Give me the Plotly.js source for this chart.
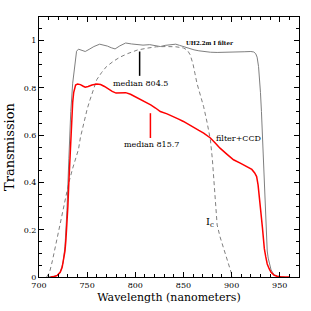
<!DOCTYPE html>
<html>
<head>
<meta charset="utf-8">
<script src="https://cdn.plot.ly/plotly-3.0.1.min.js"></script>
<style>html,body{margin:0;padding:0;background:#fff;}#chart{width:311px;height:311px;}</style>
</head>
<body>
<div id="chart"></div>
<script>
// UH2.2m I filter curve
const filterWl = [710,718,722,725,727,729,731,733,735,736.5,738,739,741,744,748,752,757,763,767,771,775,779,784,790,796,802,808,815,821,826,831,837,842,846,850,854,857,861,866,872,878,885,893,900,906,913,920,923,925,926.5,928,929,930,931,932,933,934,935,936,937,938,939,941,944,948,955];
const filterT  = [0,0.005,0.02,0.06,0.13,0.28,0.5,0.7,0.82,0.87,0.935,0.955,0.964,0.96,0.954,0.963,0.975,0.985,0.982,0.977,0.97,0.965,0.978,0.99,0.986,0.982,0.981,0.983,0.978,0.975,0.98,0.982,0.985,0.98,0.975,0.969,0.964,0.961,0.957,0.953,0.951,0.95,0.95,0.951,0.951,0.953,0.954,0.952,0.945,0.93,0.89,0.84,0.78,0.7,0.6,0.48,0.37,0.25,0.16,0.11,0.08,0.059,0.03,0.01,0.003,0];

// Cousins Ic band (dashed)
const icWl = [708,711,714,717,721,725,728,731,735,738,741,743,747,750,753,757,760,765,770,777,784,792,802,812,822,832,842,850,854,857,860,862,864,867.5,871,874.5,878,880,882,885,888,892,896,899,901];
const icT  = [0,0.02,0.07,0.13,0.2,0.28,0.35,0.4,0.46,0.5,0.54,0.59,0.665,0.71,0.75,0.8,0.835,0.865,0.89,0.912,0.93,0.945,0.96,0.968,0.974,0.975,0.974,0.969,0.96,0.94,0.9,0.86,0.82,0.77,0.72,0.655,0.58,0.5,0.4,0.22,0.17,0.115,0.06,0.018,0];

// filter x CCD
const ccdWl = [712,716,719,722,724,726,727,728,729,730,731,732,733,734,735,736,737,738,740,743,746,748,751,755,760,764,768,772,776,780,785,790,795,800,805,810,816,821,826,833,840,845,850,855,861,866,871,875,878,883,888,895,902,909,916,921,924,926,927.5,929,930.5,932,933,934,935.5,937,939,941,944,947,952,960];
const ccdT  = [0,0.002,0.007,0.02,0.04,0.08,0.11,0.16,0.22,0.3,0.4,0.5,0.6,0.68,0.74,0.78,0.8,0.812,0.816,0.814,0.807,0.803,0.806,0.812,0.816,0.814,0.806,0.795,0.785,0.778,0.779,0.78,0.773,0.763,0.75,0.742,0.728,0.715,0.7,0.69,0.679,0.668,0.658,0.645,0.63,0.62,0.609,0.598,0.588,0.567,0.545,0.52,0.496,0.482,0.468,0.455,0.44,0.425,0.39,0.34,0.27,0.21,0.16,0.12,0.085,0.055,0.035,0.02,0.008,0.003,0,0];

const medianFilter = 804.5;
const medianCCD = 815.7;

const xTicks = [700,750,800,850,900,950];
const yTicks = [0,0.2,0.4,0.6,0.8,1];

const font = "DejaVu Serif";

const traces = [
  {x: filterWl, y: filterT, mode:'lines', line:{color:'#7f7f7f', width:1}, hoverinfo:'skip'},
  {x: icWl, y: icT, mode:'lines', line:{color:'#7f7f7f', width:1, dash:'4px,3px'}, hoverinfo:'skip'},
  {x: ccdWl, y: ccdT, mode:'lines', line:{color:'#ff0000', width:1.5}, hoverinfo:'skip'},
  {x: [medianFilter, medianFilter], y: [0.954, 0.851], mode:'lines', line:{color:'#000', width:1.5}, hoverinfo:'skip'},
  {x: [medianCCD, medianCCD], y: [0.693, 0.588], mode:'lines', line:{color:'#ff0000', width:1.5}, hoverinfo:'skip'}
];

const axisCommon = {
  showgrid:false, zeroline:false, showline:true, linecolor:'#000', linewidth:1,
  mirror:'allticks', ticks:'inside', ticklen:5, tickwidth:1, tickcolor:'#000',
  tickfont:{family:font, size:8, color:'#000'}
};

const layout = {
  width:311, height:311,
  margin:{l:39, r:12, t:17, b:34},
  paper_bgcolor:'#fff', plot_bgcolor:'#fff',
  showlegend:false,
  xaxis: Object.assign({}, axisCommon, {
    range:[700,970], tickvals:xTicks, ticktext:xTicks.map(String),
    minor:{dtick:10, tick0:700, ticks:'inside', ticklen:3, tickcolor:'#000', tickwidth:1},
    title:{text:'Wavelength (nanometers)', font:{family:font, size:11, color:'#000'}, standoff:4}
  }),
  yaxis: Object.assign({}, axisCommon, {
    range:[0,1.1], tickvals:yTicks, ticktext:['0','0.2','0.4','0.6','0.8','1'],
    minor:{dtick:0.05, tick0:0, ticks:'inside', ticklen:3, tickcolor:'#000', tickwidth:1},
    title:{text:'Transmission', font:{family:font, size:13, color:'#000'}, standoff:6}
  }),
  annotations:[
    {x:877.4, y:0.989, xref:'x', yref:'y', text:'<b>UH2.2m I filter</b>', showarrow:false, font:{family:font, size:5.5, color:'#000'}},
    {x:805.5, y:0.817, xref:'x', yref:'y', text:'median 804.5', showarrow:false, font:{family:font, size:8, color:'#000'}},
    {x:816.5, y:0.559, xref:'x', yref:'y', text:'median 815.7', showarrow:false, font:{family:font, size:8, color:'#000'}},
    {x:907.3, y:0.585, xref:'x', yref:'y', text:'filter+CCD', showarrow:false, font:{family:font, size:8, color:'#000'}},
    {x:877.5, y:0.232, xref:'x', yref:'y', text:'I<sub>c</sub>', showarrow:false, font:{family:font, size:10, color:'#000'}}
  ]
};

Plotly.newPlot('chart', traces, layout, {staticPlot:true, displayModeBar:false});
</script>
</body>
</html>
